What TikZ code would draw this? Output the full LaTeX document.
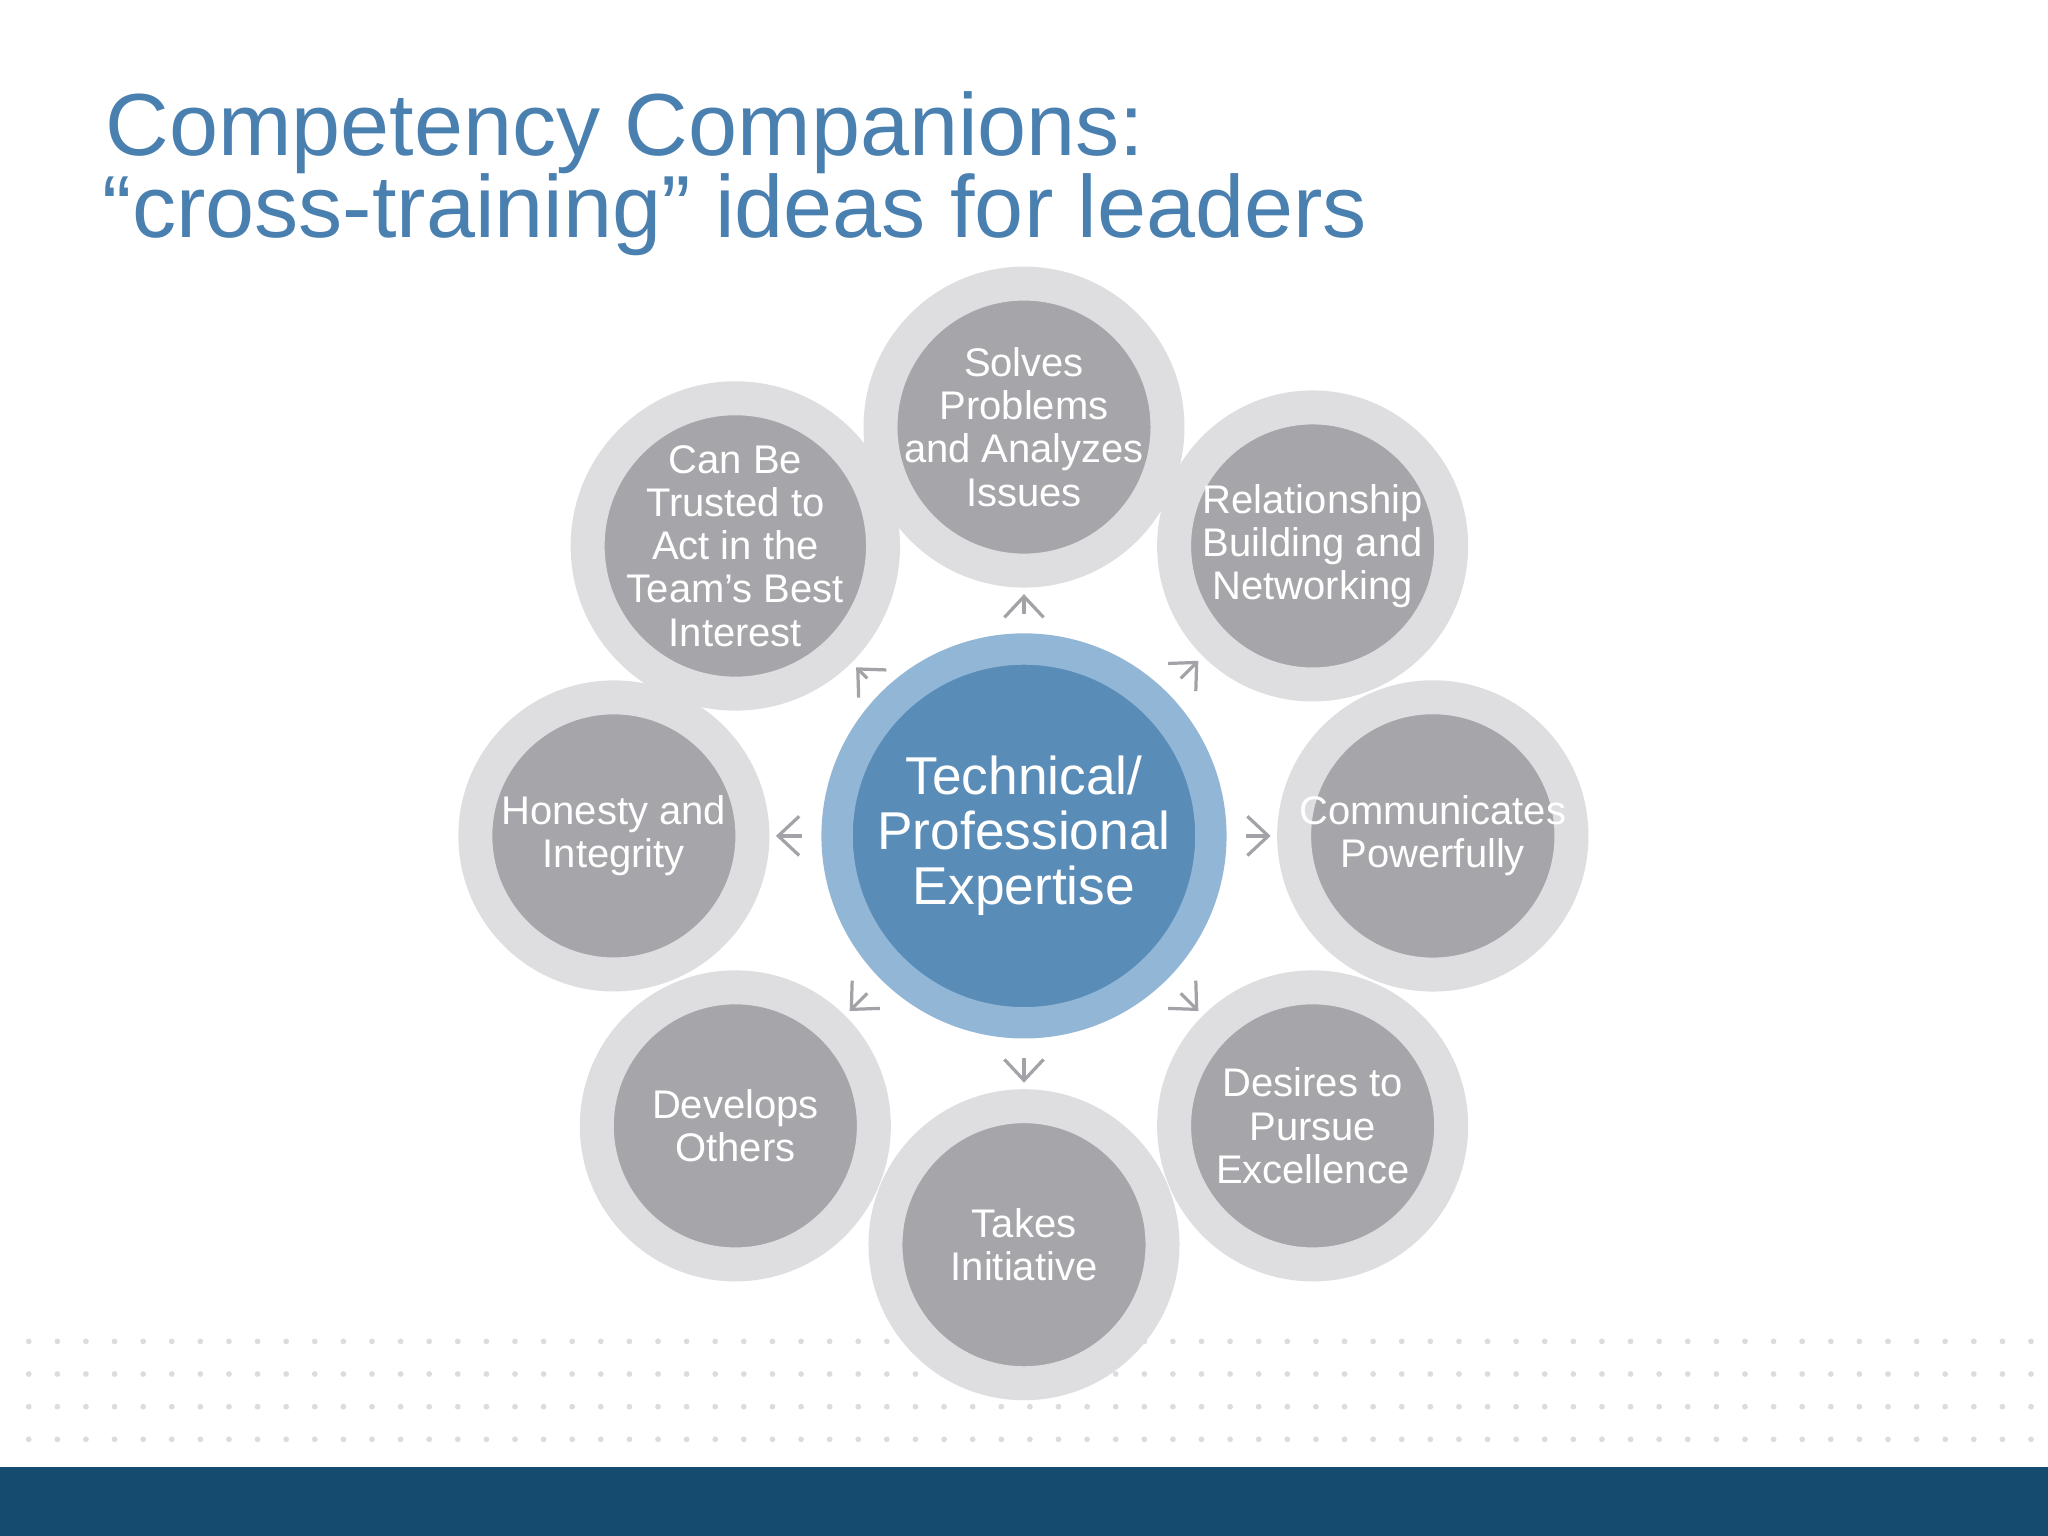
\documentclass[tikz,border=0pt]{standalone}
\usepackage{fontspec}
\setmainfont{Liberation Sans}
\usetikzlibrary{arrows.meta}
\definecolor{titleblue}{HTML}{4A80B0}
\definecolor{satfill}{HTML}{A6A5A9}
\definecolor{satring}{HTML}{DEDDE0}
\definecolor{cenfill}{HTML}{5A8CB8}
\definecolor{cenring}{HTML}{92B6D6}
\definecolor{arr}{HTML}{A3A3A7}
\definecolor{bar}{HTML}{154B6E}
\definecolor{dotc}{HTML}{DCDCDE}
\tikzset{
  sat/.style={circle,fill=satfill,draw=satring,line width=2.6mm,minimum size=2.12cm,inner sep=0pt,
    align=center,text=white,font=\fontsize{8.7}{9.4}\selectfont},
  cen/.style={circle,fill=cenfill,draw=cenring,line width=2.4mm,minimum size=2.86cm,inner sep=0pt,
    align=center,text=white,font=\fontsize{11.6}{12}\selectfont},
  link/.style={draw=arr,line width=0.7pt,-{Straight Barb[length=1.6mm,width=3mm]},shorten <=1.5mm,shorten >=0.5mm}
}
\begin{document}
\begin{tikzpicture}[x=0.01cm,y=-0.01cm]
\useasboundingbox (0,0) rectangle (1568,1176);
\fill[white] (0,0) rectangle (1568,1176);
\foreach \r in {0,...,3}{
  \foreach \c in {0,...,70}{
    \fill[dotc] (22+\c*21.9,1027+\r*25) circle (2.2);
  }
}
\fill[bar] (0,1123) rectangle (1568,1176);
\node[anchor=base west,text=titleblue,font=\fontsize{19.2}{18}\selectfont,inner sep=0] (t1) at (80,119) {Competency Companions:};
\node[anchor=base west,text=titleblue,font=\fontsize{19.2}{18}\selectfont,inner sep=0] (t2) at (78,182) {“cross-training” ideas for leaders};
\fill[cenring!40] (784,640) circle (150);
\node[cen] (c) at (784,640) {Technical/\\Professional\\Expertise};
\node[sat] (s1) at (784,327) {Solves\\Problems\\and Analyzes\\Issues};
\node[sat] (s2) at (1005,418) {Relationship\\Building and\\Networking};
\node[sat] (s3) at (1097,640) {Communicates\\Powerfully};
\node[sat] (s4) at (1005,862) {Desires to\\Pursue\\Excellence};
\node[sat] (s5) at (784,953) {Takes\\Initiative};
\node[sat] (s6) at (563,862) {Develops\\Others};
\node[sat] (s7) at (470,640) {Honesty and\\Integrity};
\node[sat] (s8) at (563,418) {Can Be\\Trusted to\\Act in the\\Team’s Best\\Interest};
\foreach \s in {s1,s2,s3,s4,s5,s6,s7,s8}{ \draw[link] (c) -- (\s); }
\end{tikzpicture}
\end{document}
